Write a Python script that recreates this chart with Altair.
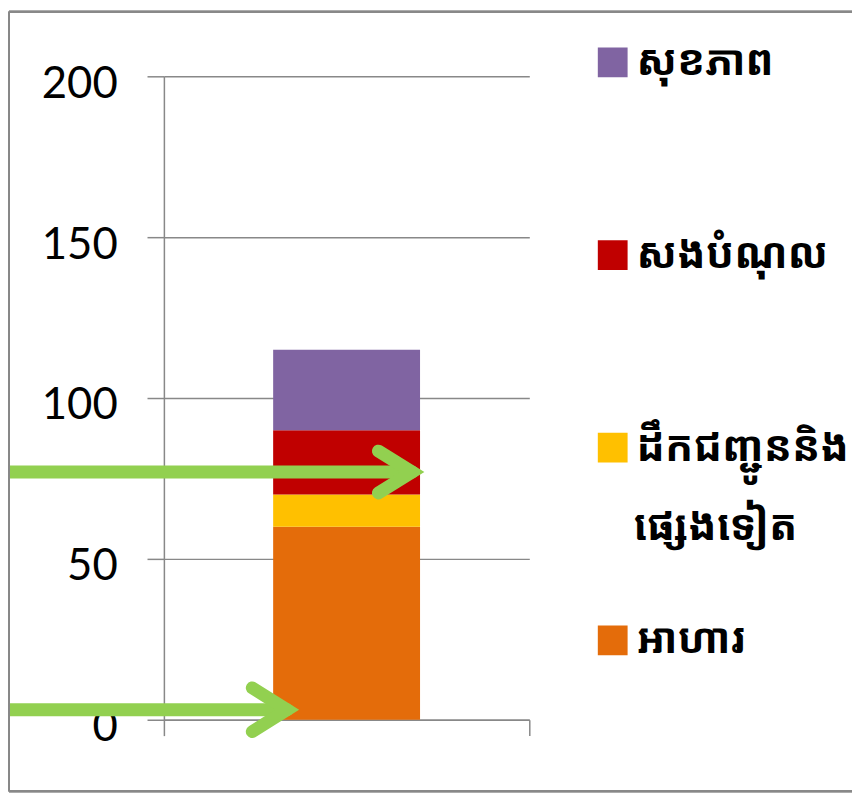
import altair as alt
import pandas as pd

# ---- data ----
categories = ["អាហារ", "ដឹកជញ្ជូននិងផ្សេងទៀត", "សងបំណុល", "សុខភាព"]
values = [60, 10, 20, 25]
colors = ["#E46C0A", "#FFC000", "#C00000", "#8064A2"]
stack_rank = [0, 1, 2, 3]
yellow_lines = ["ដឹកជញ្ជូននិង", "ផ្សេងទៀត"]
y_ticks = [0, 50, 100, 150, 200]

# arrow annotations (x in pixels relative to plot, y in data units)
arrow_piece = ["s1", "s1", "c1", "c1", "c1", "s2", "s2", "c2", "c2", "c2"]
arrow_px = [-200, 250, 216, 250, 216, -200, 124, 89, 124, 89]
arrow_val = [77, 77, 83.5, 77, 70.5, 3.1, 3.1, 9.9, 3.1, -3.7]
arrow_ord = [0, 1, 0, 1, 2, 0, 1, 0, 1, 2]

df = pd.DataFrame({
    "group": ["g"] * len(categories),
    "cat": categories,
    "value": values,
    "rank": stack_rank,
})
arrows = pd.DataFrame({"piece": arrow_piece, "px": arrow_px, "val": arrow_val, "o": arrow_ord})
second_line = pd.DataFrame({"t": [yellow_lines[1]]})

legend_order = categories[::-1]
legend_colors = colors[::-1]

khmer_font = "Noto Sans Khmer, Khmer OS Battambang, Khmer OS, Noto Sans, sans-serif"
label_expr = "datum.label == '" + categories[1] + "' ? '" + yellow_lines[0] + "' : datum.label"

gray = "#888888"
label_size = 42

bar = alt.Chart(df).mark_bar(width=alt.RelativeBandSize(0.402)).encode(
    x=alt.X(
        "group:N",
        scale=alt.Scale(paddingInner=0, paddingOuter=0),
        axis=alt.Axis(labels=False, title=None, tickBand="extent", ticks=True,
                      tickSize=16, tickColor=gray, tickWidth=1.5,
                      domainColor=gray, domainWidth=1.5, grid=False),
    ),
    y=alt.Y(
        "value:Q",
        stack="zero",
        scale=alt.Scale(domain=[0, 200], nice=False),
        axis=alt.Axis(values=y_ticks, title=None, labelFont="Lato", labelFontSize=44,
                      labelColor="black", labelPadding=30, labelOffset=8,
                      tickSize=17, tickColor=gray, tickWidth=1.5,
                      domainColor=gray, domainWidth=1.5,
                      grid=True, gridColor=gray, gridWidth=1.5),
    ),
    color=alt.Color(
        "cat:N",
        scale=alt.Scale(domain=legend_order, range=legend_colors),
        legend=alt.Legend(
            orient="none", legendX=431, legendY=-39, title=None,
            symbolType="square", symbolSize=900, symbolStrokeWidth=0, symbolOpacity=1,
            labelFont=khmer_font, labelFontSize=label_size, labelFontWeight="bold",
            labelColor="black", labelOffset=3, labelLimit=400,
            rowPadding=144, clipHeight=50, padding=0,
            labelExpr=label_expr,
        ),
    ),
    order=alt.Order("rank:Q"),
)

line2 = alt.Chart(second_line).mark_text(
    font=khmer_font, fontSize=label_size, fontWeight="bold", color="black",
    align="left", baseline="middle",
).encode(text="t:N", x=alt.value(473), y=alt.value(454))

arrow_layer = alt.Chart(arrows).mark_line(
    color="#92D050", strokeWidth=13, strokeCap="round", strokeJoin="miter", clip=False
).encode(
    x=alt.X("px:Q", scale=None, axis=None),
    y=alt.Y("val:Q"),
    detail="piece:N",
    order="o:Q",
)

frame_left = alt.Chart(df).mark_rule(color=gray, strokeWidth=2).encode(
    x=alt.value(-156), y=alt.value(-65), y2=alt.value(720)
)
frame_top = alt.Chart(df).mark_rule(color=gray, strokeWidth=2).encode(
    x=alt.value(-156), x2=alt.value(693), y=alt.value(-65)
)
frame_bottom = alt.Chart(df).mark_rule(color=gray, strokeWidth=2).encode(
    x=alt.value(-156), x2=alt.value(693), y=alt.value(720)
)

chart = alt.layer(bar, line2, arrow_layer, frame_left, frame_top, frame_bottom).resolve_scale(
    x="independent"
).properties(
    width=368, height=648,
    autosize=alt.AutoSizeParams(type="none"),
    padding={"left": 157, "top": 66, "right": 326, "bottom": 73},
    background="white",
).configure_view(stroke=None)

chart.save("out.html", embed_options={"renderer": "svg", "actions": False})
